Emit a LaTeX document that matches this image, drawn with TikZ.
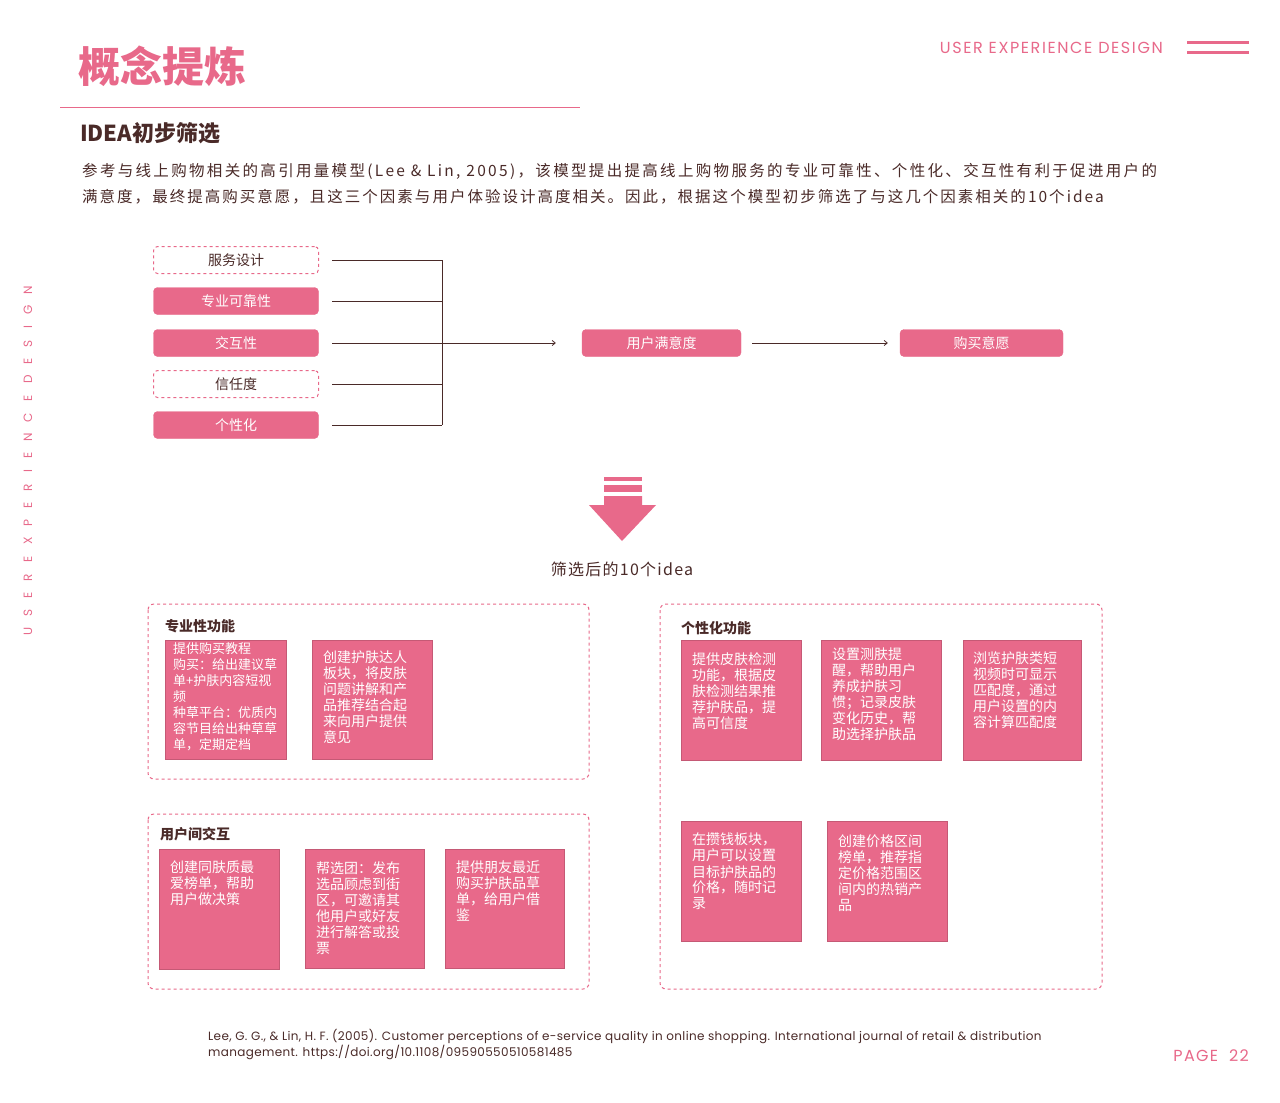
\documentclass[tikz,border=0pt]{standalone}
\usepackage{fontspec}
\setmainfont{Noto Sans CJK SC}
\newfontfamily\pop{Poppins}
\usetikzlibrary{arrows.meta}
\definecolor{pk}{HTML}{E8698A}
\definecolor{dk}{HTML}{4A2A28}
\tikzset{
 fac/.style={rounded corners=4pt,minimum width=165pt,minimum height=27pt,inner sep=0pt,font=\fontsize{14}{16}\selectfont},
 facf/.style={fac,fill=pk,draw=pk,text=white},
 facd/.style={fac,draw=pk,dashed,line width=1pt,text=dk,fill=white},
 grp/.style={draw=pk,dashed,line width=1pt,rounded corners=6pt},
 card/.style={fill=pk,draw=pk!85!black,line width=0.4pt},
 ctext/.style={anchor=north west,align=left,text=white,inner sep=0pt,font=\fontsize{14}{16}\selectfont},
 gt/.style={anchor=west,text=dk,inner sep=0pt,font=\bfseries\fontsize{14}{16}\selectfont},
 ln/.style={dk,line width=0.8pt},
 para/.style={anchor=west,text=dk,inner sep=0pt,font=\fontsize{15.5}{18}\selectfont\addfontfeature{LetterSpace=15}},
}
\begin{document}
\begin{tikzpicture}[x=1pt,y=-1pt]
\path[use as bounding box,fill=white] (0,0) rectangle (1280,1103);
% header
\node[anchor=west,text=pk,inner sep=0pt,font=\bfseries\fontsize{42}{44}\selectfont] (title) at (78,66) {概念提炼};
\draw[pk,line width=0.8pt] (60,107) -- (580,107);
\node[anchor=east,text=pk,inner sep=0pt,font=\pop\fontsize{16}{18}\selectfont\addfontfeature{LetterSpace=10}] (ued) at (1163,48) {USER EXPERIENCE DESIGN};
\draw[pk,line width=3pt] (1187,42) -- (1249,42) (1187,52) -- (1249,52);
\node[rotate=90,text=pk,inner sep=0pt,font=\pop\fontsize{12}{14}\selectfont\addfontfeature{LetterSpace=92}] (vert) at (28,461) {USER\quad EXPERIENCE\quad DESIGN};
\node[anchor=west,text=dk,inner sep=0pt,font=\bfseries\fontsize{22}{24}\selectfont] (sub) at (80,133) {IDEA初步筛选};
\node[para] (p1) at (82,171) {参考与线上购物相关的高引用量模型(Lee \& Lin, 2005)，该模型提出提高线上购物服务的专业可靠性、个性化、交互性有利于促进用户的};
\node[para,font=\fontsize{15.5}{18}\selectfont\addfontfeature{LetterSpace=13}] (p2) at (82,197) {满意度，最终提高购买意愿，且这三个因素与用户体验设计高度相关。因此，根据这个模型初步筛选了与这几个因素相关的10个idea};
% factors
\node[facd] (f1) at (236,260) {服务设计};
\node[facf] (f2) at (236,301) {专业可靠性};
\node[facf] (f3) at (236,343) {交互性};
\node[facd] (f4) at (236,384) {信任度};
\node[facf] (f5) at (236,425) {个性化};
\coordinate (j1) at (442,260);
\coordinate (j5) at (442,425);
\foreach \i/\y in {1/260,2/301,3/343,4/384,5/425}{\draw[ln] (332,\y) -- (442,\y);}
\draw[ln] (j1) -- (j5);
\node[facf,minimum width=159pt] (sat) at (661.5,343) {用户满意度};
\node[facf,minimum width=163pt] (buy) at (981.5,343) {购买意愿};
\draw[ln,-{Straight Barb[length=3pt,width=5pt]}] (332,343) -- ([xshift=-26pt]sat.west);
\draw[ln,-{Straight Barb[length=3pt,width=5pt]}] ([xshift=11pt]sat.east) -- ([xshift=-12pt]buy.west);
% down arrow
\fill[pk] (604,477) rectangle (642,481);
\fill[pk] (604,485) rectangle (642,492);
\fill[pk] (604,496) -- (642,496) -- (642,505) -- (656,505) -- (622,541) -- (589,505) -- (604,505) -- cycle;
\node[text=dk,inner sep=0pt,font=\fontsize{16}{18}\selectfont\addfontfeature{LetterSpace=8}] (lab) at (622,569) {筛选后的10个idea};
% groups
\draw[grp] (148,604) rectangle (589,779);
\draw[grp] (148,814) rectangle (589,989);
\draw[grp] (660,604) rectangle (1102,989);
\node[gt] (ga) at (165,626) {专业性功能};
\node[gt] (gb) at (160,834) {用户间交互};
\node[gt] (gc) at (681,628) {个性化功能};
% cards A
\draw[card] (165,640) rectangle (286,759);
\node[ctext,font=\fontsize{13}{16}\selectfont] (a1) at (173,642) {提供购买教程\\购买：给出建议草\\单+护肤内容短视\\频\\种草平台：优质内\\容节目给出种草草\\单，定期定档};
\draw[card] (312,640) rectangle (432,759);
\node[ctext] (a2) at (323,651) {创建护肤达人\\板块，将皮肤\\问题讲解和产\\品推荐结合起\\来向用户提供\\意见};
% cards B
\draw[card] (159,849) rectangle (279,969);
\node[ctext] (b1) at (170,861) {创建同肤质最\\爱榜单，帮助\\用户做决策};
\draw[card] (305,849) rectangle (424,968);
\node[ctext] (b2) at (316,861) {帮选团：发布\\选品顾虑到街\\区，可邀请其\\他用户或好友\\进行解答或投\\票};
\draw[card] (445,849) rectangle (564,968);
\node[ctext] (b3) at (456,861) {提供朋友最近\\购买护肤品草\\单，给用户借\\鉴};
% cards C
\draw[card] (681,640) rectangle (801,760);
\node[ctext] (c1) at (692,652) {提供皮肤检测\\功能，根据皮\\肤检测结果推\\荐护肤品，提\\高可信度};
\draw[card] (821,640) rectangle (941,760);
\node[ctext] (c2) at (832,648) {设置测肤提\\醒，帮助用户\\养成护肤习\\惯；记录皮肤\\变化历史，帮\\助选择护肤品};
\draw[card] (963,640) rectangle (1081,760);
\node[ctext] (c3) at (973,652) {浏览护肤类短\\视频时可显示\\匹配度，通过\\用户设置的内\\容计算匹配度};
\draw[card] (681,821) rectangle (801,941);
\node[ctext] (c4) at (692,833) {在攒钱板块，\\用户可以设置\\目标护肤品的\\价格，随时记\\录};
\draw[card] (827,821) rectangle (947,941);
\node[ctext] (c5) at (838,835) {创建价格区间\\榜单，推荐指\\定价格范围区\\间内的热销产\\品};
% footer
\node[anchor=north west,align=left,text=dk,inner sep=0pt,font=\pop\fontsize{12}{16.5}\selectfont\addfontfeature{LetterSpace=3}] (ref) at (208,1029) {Lee, G. G., \& Lin, H. F. (2005). Customer perceptions of e-service quality in online shopping. International journal of retail \& distribution\\management. https://doi.org/10.1108/09590550510581485};
\node[anchor=east,text=pk,inner sep=0pt,font=\pop\fontsize{16}{18}\selectfont\addfontfeature{LetterSpace=8}] (page) at (1249,1056) {PAGE\ \ 22};
\end{tikzpicture}
\end{document}
